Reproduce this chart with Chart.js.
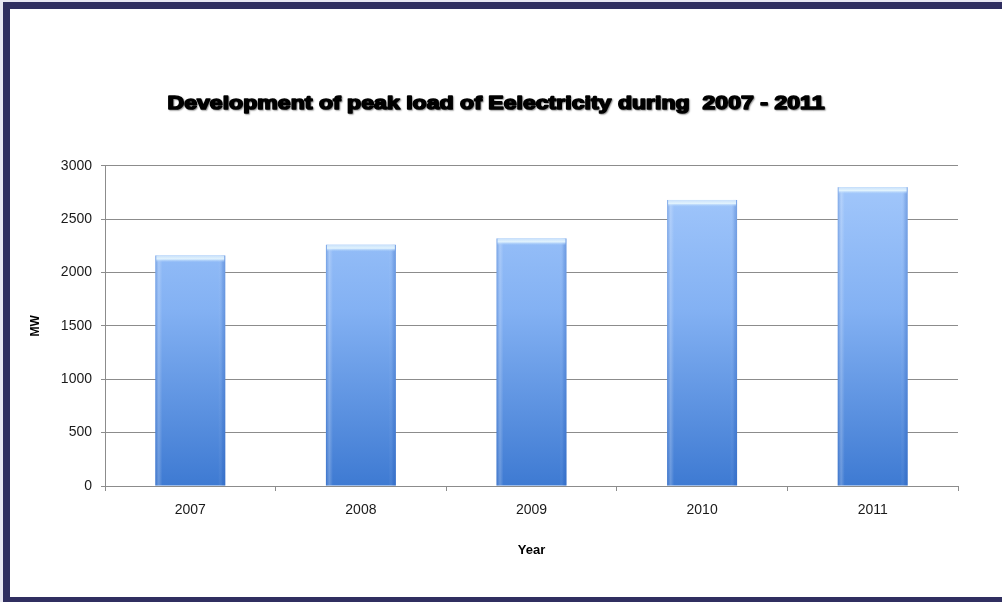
<!DOCTYPE html>
<html>
<head>
<meta charset="utf-8">
<script src="https://cdn.jsdelivr.net/npm/chart.js@4.4.1/dist/chart.umd.min.js"></script>
<style>
  html, body { margin: 0; padding: 0; background: #ffffff; }
  #wrap { position: relative; width: 1002px; height: 602px; overflow: hidden; background: #e9e8f2; }
  #sheet { position: absolute; left: 3px; top: 2px; width: 1010px; height: 600px; background: #ffffff; }
  #chart { position: absolute; left: 0; top: 0; }
  #frame {
    position: absolute; left: 3px; top: 2px; width: 1010px; height: 588px;
    border: 7px solid #302f60; box-sizing: content-box; pointer-events: none;
  }
</style>
</head>
<body>
<div id="wrap">
  <div id="sheet"></div>
  <canvas id="chart" width="1002" height="602"></canvas>
  <div id="frame"></div>
</div>
<script>
// Peak electricity load per year (MW)
const years = ['2007', '2008', '2009', '2010', '2011'];
const peakLoad = [2160, 2260, 2320, 2680, 2800];
const yTicks = [0, 500, 1000, 1500, 2000, 2500, 3000];
const chartTitle = 'Development of peak load of Eelectricity during  2007 - 2011';

const fontFamily = '"Liberation Sans", Arial, sans-serif';

// Vertical fill for each bar: pale blue at the top, deeper blue at the base
function barFill(ctx) {
  const chart = ctx.chart;
  const area = chart.chartArea;
  if (!area) return '#7aa9ec';
  const g = chart.ctx.createLinearGradient(0, area.top, 0, area.bottom);
  g.addColorStop(0, '#a6cafc');
  g.addColorStop(0.45, '#83b1f3');
  g.addColorStop(1, '#3e7ad2');
  return g;
}

// Side shading and a light cap on top of every bar, drawn from the bar elements
const barShine = {
  id: 'barShine',
  afterDatasetsDraw(chart) {
    const c = chart.ctx;
    chart.getDatasetMeta(0).data.forEach(bar => {
      const p = bar.getProps(['x', 'y', 'width', 'base'], true);
      const l = p.x - p.width / 2, r = p.x + p.width / 2;
      const h = p.base - p.y;
      c.save();
      const side = c.createLinearGradient(l, 0, r, 0);
      side.addColorStop(0, 'rgba(40,90,180,0.28)');
      side.addColorStop(0.05, 'rgba(255,255,255,0.22)');
      side.addColorStop(0.1, 'rgba(255,255,255,0.0)');
      side.addColorStop(0.9, 'rgba(255,255,255,0.0)');
      side.addColorStop(0.96, 'rgba(40,90,180,0.18)');
      side.addColorStop(1, 'rgba(40,90,180,0.35)');
      c.fillStyle = side;
      c.fillRect(l, p.y, p.width, h);
      const cap = c.createLinearGradient(0, p.y, 0, p.y + 7);
      cap.addColorStop(0, '#c8e0fb');
      cap.addColorStop(0.5, '#e2f3fd');
      cap.addColorStop(1, 'rgba(160,200,250,0)');
      c.fillStyle = cap;
      c.fillRect(l + 1, p.y, p.width - 2, 7);
      c.restore();
    });
  }
};

// Heavy, slightly shadowed title lettering placed in the title plugin's box
const heavyTitle = {
  id: 'heavyTitle',
  afterDraw(chart) {
    const box = chart.titleBlock;
    if (!box) return;
    const c = chart.ctx;
    const size = 19;
    const cx = (box.left + box.right) / 2 + 7;
    const cy = box.top + 12 + size * 0.6;
    c.save();
    c.font = `bold ${size}px ${fontFamily}`;
    c.textAlign = 'center';
    c.textBaseline = 'middle';
    const w = c.measureText(chartTitle).width;
    const sx = 657 / w;
    c.translate(cx, cy);
    c.scale(sx, 1);
    c.shadowColor = 'rgba(0,0,0,0.35)';
    c.shadowBlur = 1.5;
    c.shadowOffsetX = 1;
    c.shadowOffsetY = 1;
    c.lineJoin = 'round';
    c.lineWidth = 1.6;
    c.strokeStyle = '#000000';
    c.fillStyle = '#000000';
    c.strokeText(chartTitle, 0, 0);
    c.fillText(chartTitle, 0, 0);
    c.restore();
  }
};

new Chart(document.getElementById('chart'), {
  type: 'bar',
  data: {
    labels: years,
    datasets: [{
      data: peakLoad,
      backgroundColor: barFill,
      borderWidth: 0,
      categoryPercentage: 1,
      barPercentage: 0.41
    }]
  },
  options: {
    responsive: false,
    animation: false,
    events: [],
    layout: { padding: { left: 20, right: 44, top: 80, bottom: 44 } },
    plugins: {
      legend: { display: false },
      tooltip: { enabled: false },
      title: {
        display: true,
        text: chartTitle,
        color: 'rgba(0,0,0,0)',
        font: { family: fontFamily, size: 19, weight: 'bold' },
        padding: { top: 10, bottom: 53 }
      }
    },
    scales: {
      x: {
        grid: {
          offset: true,
          drawOnChartArea: false,
          drawTicks: true,
          tickLength: 5,
          color: '#8c8c8c'
        },
        border: { color: '#8c8c8c', width: 1 },
        ticks: {
          color: '#1a1a1a',
          padding: 11,
          font: { family: fontFamily, size: 14 }
        },
        title: {
          display: true,
          text: 'Year',
          color: '#000000',
          padding: 0,
          font: { family: fontFamily, size: 13, weight: 'bold' }
        },
        afterFit(scale) { scale.height = 72; }
      },
      y: {
        min: 0,
        max: 3000,
        afterBuildTicks(scale) { scale.ticks = yTicks.map(v => ({ value: v })); },
        grid: {
          color: '#8c8c8c',
          lineWidth: 1,
          tickLength: 4
        },
        border: { color: '#8c8c8c', width: 1 },
        ticks: {
          color: '#1a1a1a',
          padding: 9,
          font: { family: fontFamily, size: 14 },
          callback: v => String(v)
        },
        title: {
          display: true,
          text: 'MW',
          color: '#000000',
          padding: 8,
          font: { family: fontFamily, size: 12, weight: 'bold' }
        },
        afterFit(scale) { scale.width = 85; }
      }
    }
  },
  plugins: [barShine, heavyTitle]
});
</script>
</body>
</html>
